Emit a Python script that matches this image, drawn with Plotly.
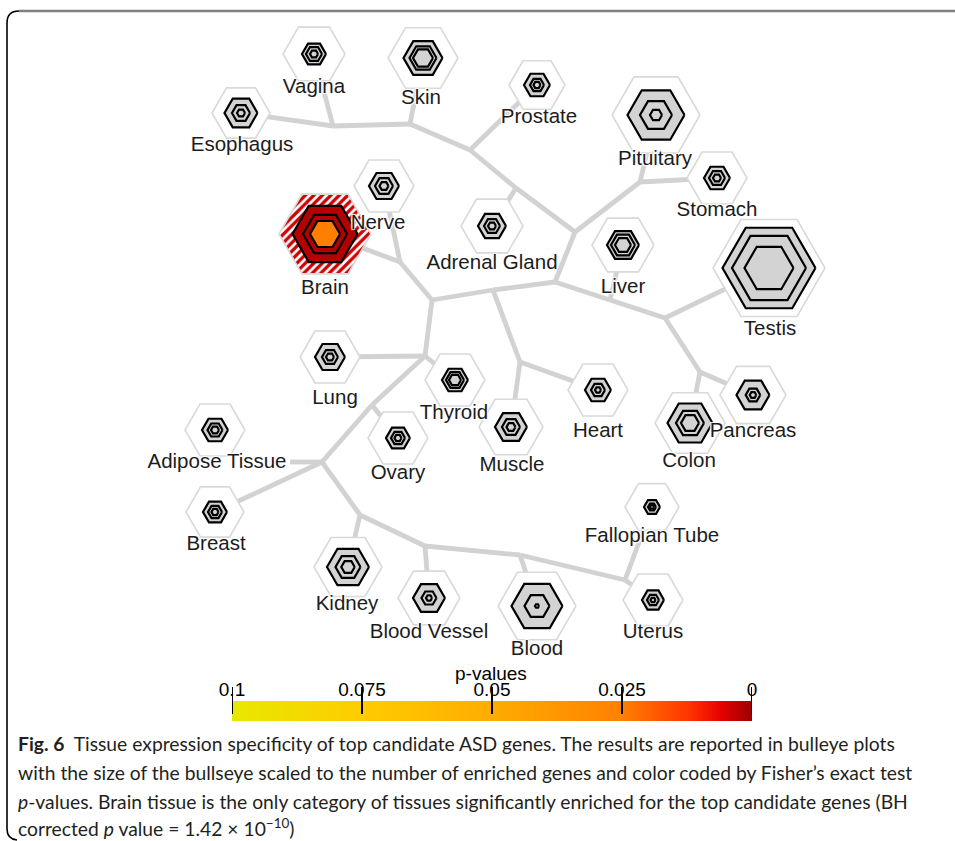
import numpy as np
import plotly.graph_objects as go
from plotly.colors import sample_colorscale

W, H = 955, 841

# ---------------- data ----------------
tissues = ["Vagina", "Skin", "Esophagus", "Prostate", "Pituitary", "Stomach",
           "Brain", "Nerve", "Adrenal Gland", "Liver", "Testis", "Lung", "Thyroid",
           "Muscle", "Heart", "Colon", "Pancreas", "Adipose Tissue", "Ovary",
           "Breast", "Fallopian Tube", "Kidney", "Blood Vessel", "Blood", "Uterus"]
# tree-layout coordinates of each tissue node
node_x = [314, 423, 241, 537, 656, 717, 325, 384, 492, 623, 769, 330, 455,
          511, 598, 690, 753, 215, 398, 215, 652, 348, 429, 537, 653]
node_y = [54, 58, 113, 85, 115, 178, 234, 186, 226, 245, 268, 357, 380,
          427, 390, 423, 395, 430, 438, 512, 507, 567, 598, 606, 600]
label_x = [314, 421, 242, 539, 655, 717, 325, 378, 492, 623, 770, 335, 454,
           512, 598, 689, 753, 217, 398, 216, 652, 347, 429, 537, 653]
label_y = [88, 99, 146, 118, 160, 211, 289, 224, 264, 288, 330, 399, 414,
           466, 432, 462, 432, 463, 474, 545, 537, 605, 633, 650, 633]
# bullseye sizes (relative units)
size_halo = [31, 35, 29, 28, 44, 30, 46, 30, 31, 31, 56, 30, 30,
             32, 30, 35, 33, 30, 30, 29, 27, 34, 31, 39, 30]
size_outer = [12, 19.5, 16.5, 13, 28.5, 13, 32.5, 15, 14, 16, 46.5, 15, 13,
              16, 13, 22.5, 16.5, 13, 12, 12, 8, 21, 16, 25.5, 11]
size_mid = [8, 13.5, 9, 7, 16, 8, 22, 9, 8, 12, 37, 8, 9,
            9, 7, 14, 7.3, 7.5, 7, 7, 4, 12.5, 7.5, 12.5, 6]
size_inner = [4, 10, 4, 3.5, 6, 4, 15, 4.5, 4, 8, 24.5, 4, 6,
              4.5, 3, 9, 3.3, 4, 3.5, 3.5, 2, 6.7, 3, 2, 2.5]
# Fisher's exact test p-values per bullseye level (1.0 = not significant)
p_halo = [1, 1, 1, 1, 1, 1, 0.005, 1, 1, 1, 1, 1, 1, 1, 1, 1, 1, 1, 1, 1, 1, 1, 1, 1, 1]
p_outer = [1, 1, 1, 1, 1, 1, 0.002, 1, 1, 1, 1, 1, 1, 1, 1, 1, 1, 1, 1, 1, 1, 1, 1, 1, 1]
p_mid = [1, 1, 1, 1, 1, 1, 0.002, 1, 1, 1, 1, 1, 1, 1, 1, 1, 1, 1, 1, 1, 1, 1, 1, 1, 1]
p_inner = [1, 1, 1, 1, 1, 1, 0.025, 1, 1, 1, 1, 1, 1, 1, 1, 1, 1, 1, 1, 1, 1, 1, 1, 1, 1]

# internal tree junctions and edges
junction_names = ["J1", "J2", "J3", "J4", "J5", "J6", "J7", "J8", "J9", "J10",
                  "J11", "J12", "J13", "J14", "J15", "J16", "J17", "J18", "J19", "J20",
                  "J21", "J22"]
junction_x = [333, 410, 470, 516, 640, 575, 555, 665, 700, 493,
              432, 400, 520, 425, 372, 322, 360, 425, 520, 625, 610, 290]
junction_y = [126, 124, 150, 188, 182, 232, 282, 318, 372, 290,
              300, 262, 362, 356, 405, 462, 515, 546, 555, 580, 300, 462]
edges = [("Esophagus", "J1"), ("Vagina", "J1"), ("J1", "J2"), ("Skin", "J2"),
         ("J2", "J3"), ("Prostate", "J3"), ("J3", "J4"), ("Adrenal Gland", "J4"),
         ("J4", "J6"), ("Pituitary", "J5"), ("Stomach", "J5"), ("J5", "J6"),
         ("J6", "J7"), ("J7", "J21"), ("Liver", "J21"), ("J21", "J8"), ("Testis", "J8"),
         ("J8", "J9"), ("Colon", "J9"), ("Pancreas", "J9"), ("J7", "J10"),
         ("J10", "J11"), ("J10", "J13"), ("Muscle", "J13"), ("Heart", "J13"),
         ("J11", "J12"), ("Brain", "J12"), ("Nerve", "J12"), ("J11", "J14"),
         ("Lung", "J14"), ("Thyroid", "J14"), ("J14", "J15"), ("Ovary", "J15"),
         ("J15", "J16"), ("J22", "J16"), ("Breast", "J16"),
         ("J16", "J17"), ("Kidney", "J17"), ("J17", "J18"), ("Blood Vessel", "J18"),
         ("J18", "J19"), ("Blood", "J19"), ("J19", "J20"),
         ("Fallopian Tube", "J20"), ("Uterus", "J20")]

# colour bar
cbar_tickvals = [0.1, 0.075, 0.05, 0.025, 0]
cbar_ticktext = ["0.1", "0.075", "0.05", "0.025", "0"]
P_MAX = 0.1

caption_lines = [
    "<b>Fig. 6</b>  Tissue expression specificity of top candidate ASD genes. The results are reported in bulleye plots",
    "with the size of the bullseye scaled to the number of enriched genes and color coded by Fisher’s exact test",
    "<i>p</i>-values. Brain tissue is the only category of tissues significantly enriched for the top candidate genes (BH",
    "corrected <i>p</i> value = 1.42 × 10<sup>−10</sup>)",
]

# ---------------- styling ----------------
CSCALE = [[0.0, "rgb(153,0,0)"], [0.06, "rgb(230,0,0)"], [0.12, "rgb(255,51,0)"],
          [0.25, "rgb(255,128,0)"], [0.5, "rgb(255,172,0)"], [0.75, "rgb(255,204,0)"],
          [1.0, "rgb(232,232,0)"]]
GRAY = "#d3d3d3"
EDGE = "#d2d2d2"
HALO_LINE = "#d9d9d9"
LABEL_FONT = "Liberation Sans, Arial, sans-serif"
CAPTION_FONT = "Lato, Roboto, sans-serif"


def pcolor(p):
    if p is None or p > P_MAX:
        return None
    return sample_colorscale(CSCALE, [p / P_MAX])[0]


def hexagon(cx, cy, r):
    ang = np.deg2rad(np.arange(0, 361, 60))
    return list(cx + r * np.cos(ang)), list(cy + r * np.sin(ang))


fig = go.Figure()

# edges
pos = {n: (x, y) for n, x, y in zip(tissues, node_x, node_y)}
pos.update({n: (x, y) for n, x, y in zip(junction_names, junction_x, junction_y)})
ex, ey = [], []
for a, b in edges:
    ex += [pos[a][0], pos[b][0], None]
    ey += [pos[a][1], pos[b][1], None]
fig.add_trace(go.Scatter(x=ex, y=ey, mode="lines", line=dict(color=EDGE, width=4.8),
                         hoverinfo="skip", xaxis="x", yaxis="y"))

# bullseyes
for i, t in enumerate(tissues):
    cx, cy = node_x[i], node_y[i]
    hx, hy = hexagon(cx, cy, size_halo[i])
    hc = pcolor(p_halo[i])
    kw = {}
    if hc is not None:
        kw["fillpattern"] = dict(shape="/", fgcolor="#d00000", bgcolor="white", size=6, solidity=0.55)
    fig.add_trace(go.Scatter(x=hx, y=hy, mode="lines", fill="toself", fillcolor="white",
                             line=dict(color=HALO_LINE, width=1.6), hoverinfo="skip", **kw))
    for r, p in ((size_outer[i], p_outer[i]), (size_mid[i], p_mid[i]), (size_inner[i], p_inner[i])):
        rx, ry = hexagon(cx, cy, r)
        fc = pcolor(p) or GRAY
        fig.add_trace(go.Scatter(x=rx, y=ry, mode="lines", fill="toself", fillcolor=fc,
                                 line=dict(color="black", width=2.2), hoverinfo="skip"))

# labels
fig.add_trace(go.Scatter(x=label_x, y=label_y, mode="text", text=tissues,
                         textposition="middle center",
                         textfont=dict(family=LABEL_FONT, size=20.5, color="#1c1c1c",
                                       shadow="1px 1px 1px #fff, -1px -1px 1px #fff, "
                                              "1px -1px 1px #fff, -1px 1px 1px #fff"),
                         hoverinfo="skip"))

# colour bar as heatmap on its own axis
pgrid = np.linspace(0, P_MAX, 301)
fig.add_trace(go.Heatmap(x=pgrid, y=[0.5], z=[pgrid], colorscale=CSCALE, zmin=0, zmax=P_MAX,
                         showscale=False, zsmooth="best", xaxis="x2", yaxis="y2",
                         hoverinfo="skip"))

shapes = []
for v in cbar_tickvals:
    shapes.append(dict(type="line", xref="x2", yref="paper", x0=v, x1=v,
                       y0=1 - 687 / H, y1=1 - 714 / H, line=dict(color="black", width=2)))
# figure frame
shapes.append(dict(type="line", xref="x", yref="y", x0=19, x1=W, y0=11, y1=11,
                   line=dict(color="#808080", width=2.5)))
shapes.append(dict(type="path", xref="x", yref="y",
                   path="M 19,11 Q 7,11 7,23 L 7,829 Q 7,839 17,840",
                   line=dict(color="black", width=1.6)))

annotations = [dict(text="p-values", x=491, y=673, xref="x", yref="y", showarrow=False,
                    font=dict(family=LABEL_FONT, size=19, color="black"))]
caption_y = [743, 772, 801, 827]
for line, yy in zip(caption_lines, caption_y):
    annotations.append(dict(text=line, x=16, y=yy, xref="x", yref="y", xanchor="left",
                            yanchor="middle", showarrow=False, align="left",
                            font=dict(family=CAPTION_FONT, size=19.3, color="#231f20")))

fig.update_layout(
    template="none",
    width=W, height=H, margin=dict(l=0, r=0, t=0, b=0, pad=0), autosize=False,
    paper_bgcolor="white", plot_bgcolor="rgba(0,0,0,0)", showlegend=False,
    xaxis=dict(range=[0, W], visible=False, fixedrange=True, domain=[0, 1], automargin=False),
    yaxis=dict(range=[H, 0], visible=False, fixedrange=True, domain=[0, 1], automargin=False),
    xaxis2=dict(domain=[232 / W, 752 / W], range=[P_MAX, 0], anchor="y2", side="top",
                tickvals=cbar_tickvals, ticktext=cbar_ticktext, ticks="", automargin=False,
                showline=False, showgrid=False, zeroline=False, fixedrange=True,
                tickfont=dict(family=LABEL_FONT, size=19, color="black")),
    yaxis2=dict(domain=[1 - 721 / H, 1 - 701 / H], range=[0, 1], visible=False,
                anchor="x2", automargin=False, fixedrange=True),
    shapes=shapes, annotations=annotations,
)

fig.write_html(
    "out.html",
    config={"responsive": False, "displayModeBar": False},
    post_script="document.body.style.margin='0px';document.body.style.overflow='hidden';"
                "document.documentElement.style.overflow='hidden';",
)
